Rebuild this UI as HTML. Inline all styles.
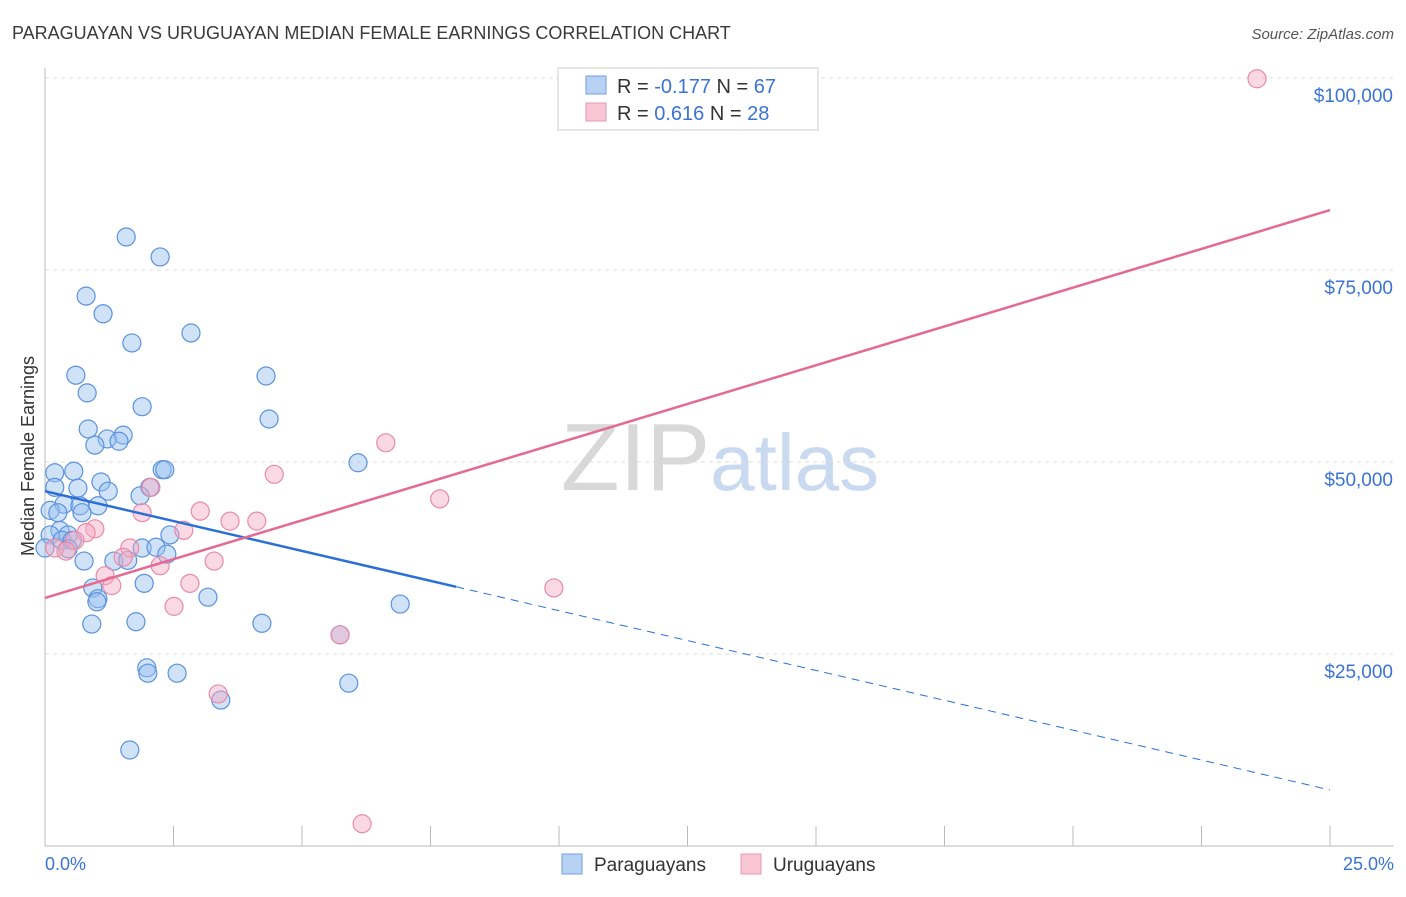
<!DOCTYPE html>
<html><head><meta charset="utf-8"><style>
body{margin:0;background:#fff;font-family:"Liberation Sans",sans-serif;}
svg text{font-family:"Liberation Sans",sans-serif;}
</style></head><body>
<svg id="chart" width="1406" height="892" viewBox="0 0 1406 892" xmlns="http://www.w3.org/2000/svg">
<text x="12" y="39" font-size="18" fill="#3a3a3a">PARAGUAYAN VS URUGUAYAN MEDIAN FEMALE EARNINGS CORRELATION CHART</text>
<text x="1394" y="39" font-size="15" fill="#555" text-anchor="end" font-style="italic">Source: ZipAtlas.com</text>
<text x="720" y="490" font-size="96" fill="#ddd" text-anchor="middle" font-family="Liberation Serif"><tspan fill="#d8d8d8">ZIP</tspan><tspan fill="#c9daf0" font-family="Liberation Sans" font-size="80">atlas</tspan></text>
<g id="grid"></g>
<g id="axes"></g>
<g id="marks"></g>
<text transform="translate(34,456) rotate(-90)" font-size="18" fill="#333" text-anchor="middle">Median Female Earnings</text>
<text x="45" y="870" font-size="18" fill="#3b73d4">0.0%</text>
<text x="1394" y="870" font-size="18" fill="#3b73d4" text-anchor="end">25.0%</text>
<g>
<rect x="558" y="68" width="260" height="62" fill="#fff" stroke="#ccc"/>
<rect x="586" y="76" width="20" height="18" fill="#b8d2f4" stroke="#6f9ee0"/>
<rect x="586" y="103" width="20" height="18" fill="#f9c6d6" stroke="#e99ab2"/>
<text x="617" y="93" font-size="20" fill="#333">R = <tspan fill="#3b73d4">-0.177</tspan>   N = <tspan fill="#3b73d4">67</tspan></text>
<text x="617" y="120" font-size="20" fill="#333">R =  <tspan fill="#3b73d4">0.616</tspan>   N = <tspan fill="#3b73d4">28</tspan></text>
</g>
<g>
<rect x="562" y="854" width="20" height="20" fill="#b8d2f4" stroke="#6f9ee0"/>
<text x="594" y="871" font-size="19" fill="#333">Paraguayans</text>
<rect x="741" y="854" width="20" height="20" fill="#f9c6d6" stroke="#e99ab2"/>
<text x="773" y="871" font-size="19" fill="#333">Uruguayans</text>
</g>
</svg>
<script>
const yTicks=[25000,50000,75000,100000];
const yTickLabels=["$25,000","$50,000","$75,000","$100,000"];
const xTicks=[0,2.5,5,7.5,10,12.5,15,17.5,20,22.5,25];
const bluePctX=[1.58,2.24,0.80,1.13,2.84,1.69,0.60,4.30,0.82,1.89,4.36,0.84,1.52,1.21,1.44,0.97,6.09,2.28,2.33,0.19,0.56,1.09,0.19,0.64,1.23,2.04,1.85,0.37,0.68,1.03,0.10,0.25,0.72,0.29,0.45,0.10,0.33,0.53,2.43,0.0,0.45,1.89,2.16,0.76,1.34,1.61,2.37,1.93,0.93,1.03,3.17,1.01,6.91,1.77,0.91,4.22,5.74,1.98,2.00,2.57,5.91,3.42,1.65];
const blueEarn=[79.3,76.7,71.6,69.3,66.8,65.5,61.3,61.2,59.0,57.2,55.6,54.3,53.5,53.0,52.7,52.2,49.9,49.0,49.0,48.6,48.8,47.4,46.7,46.6,46.2,46.7,45.6,44.5,44.3,44.3,43.7,43.4,43.4,41.1,40.5,40.5,39.8,39.8,40.5,38.8,38.7,38.8,38.9,37.1,37.1,37.2,38.0,34.2,33.6,32.2,32.4,31.8,31.5,29.2,28.9,29.0,27.5,23.2,22.5,22.5,21.2,19.0,12.5];
const pinkPctX=[23.58,6.63,4.46,2.06,7.68,3.02,1.89,3.60,4.12,2.70,0.97,0.80,0.58,0.19,0.41,1.65,1.52,3.29,2.24,1.17,1.30,2.82,9.90,2.51,5.74,3.37,6.17];
const pinkEarn=[99.9,52.5,48.4,46.7,45.2,43.6,43.4,42.3,42.3,41.1,41.3,40.8,39.8,38.8,38.4,38.8,37.6,37.1,36.5,35.2,33.9,34.2,33.6,31.2,27.5,19.8,2.9];
const blueTrend=[46.2,7.3]; // earnings (k) at 0% and 25%
const blueSolidEnd=8.0;
const pinkTrend=[32.3,82.8];
const NS="http://www.w3.org/2000/svg";
const X=v=>45+v/25*1285;
const Y=v=>846-v/25000*192;
const Yk=v=>Y(v*1000);
function mk(tag,attrs,parent){const e=document.createElementNS(NS,tag);for(const k in attrs)e.setAttribute(k,attrs[k]);parent.appendChild(e);return e;}
const grid=document.getElementById('grid'),axes=document.getElementById('axes'),marks=document.getElementById('marks');
yTicks.forEach((t,i)=>{
 const l=mk('line',{x1:45,x2:1394,y1:Y(t),y2:Y(t),stroke:'#ddd','stroke-dasharray':'4,4'},grid);
 
 
 const tx=mk('text',{x:1393,y:Y(t)+24,'font-size':19,fill:'#3b73d4','text-anchor':'end'},grid);
 tx.textContent=yTickLabels[i];
 
 
});
const ax=mk('line',{x1:45,x2:45,y1:68,y2:846,stroke:'#bbb'},axes);


const bx=mk('line',{x1:45,x2:1394,y1:846,y2:846,stroke:'#bbb'},axes);


xTicks.forEach(t=>{
 const l=mk('line',{x1:X(t),x2:X(t),y1:826,y2:846,stroke:'#bbb'},axes);
 
 
});
bluePctX.forEach((v,i)=>{
 const c=mk('circle',{cx:X(v),cy:Yk(blueEarn[i]),r:9,fill:'rgba(150,190,240,0.45)',stroke:'#5a92dc','stroke-width':1.2},marks);
 
 
});
pinkPctX.forEach((v,i)=>{
 const c=mk('circle',{cx:X(v),cy:Yk(pinkEarn[i]),r:9,fill:'rgba(245,170,195,0.45)',stroke:'#e88aa8','stroke-width':1.2},marks);
 
 
});
const bAt=x=>blueTrend[0]+(blueTrend[1]-blueTrend[0])*x/25;
const bs=mk('line',{x1:X(0),y1:Yk(bAt(0)),x2:X(blueSolidEnd),y2:Yk(bAt(blueSolidEnd)),stroke:'#2a6fd6','stroke-width':2.5},marks);


const bd=mk('line',{x1:X(blueSolidEnd),y1:Yk(bAt(blueSolidEnd)),x2:X(25),y2:Yk(bAt(25)),stroke:'#2a6fd6','stroke-width':1,'stroke-dasharray':'8,6'},marks);


const pl=mk('line',{x1:X(0),y1:Yk(pinkTrend[0]),x2:X(25),y2:Yk(pinkTrend[1]),stroke:'#e46a93','stroke-width':2.5},marks);


</script>
</body></html>
